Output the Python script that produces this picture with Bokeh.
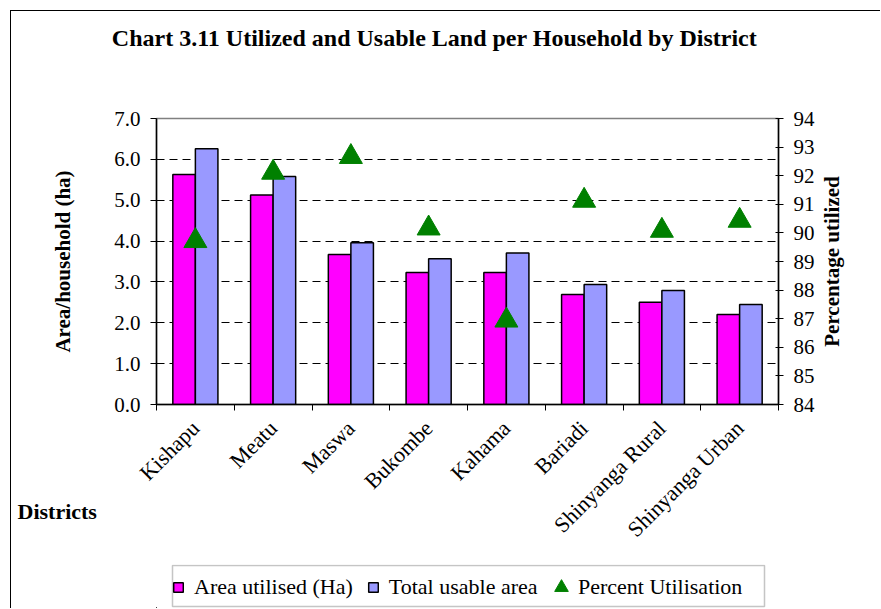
import math
from bokeh.plotting import figure
from bokeh.layouts import column
from bokeh.models import (Range1d, LinearAxis, FixedTicker, Legend, LegendItem, Label,
                          BoxAnnotation, PrintfTickFormatter, ColumnDataSource)
from bokeh.embed import file_html
from bokeh.resources import INLINE

districts = ["Kishapu", "Meatu", "Maswa", "Bukombe", "Kahama", "Bariadi",
             "Shinyanga Rural", "Shinyanga Urban"]
area_utilised = [5.63, 5.13, 3.67, 3.23, 3.23, 2.69, 2.50, 2.20]
total_usable = [6.26, 5.58, 3.96, 3.57, 3.71, 2.94, 2.79, 2.45]
percent_util = [89.72, 92.11, 92.66, 90.16, 86.94, 91.13, 90.08, 90.43]
left_ticks = [0, 1, 2, 3, 4, 5, 6, 7]
right_ticks = [84, 85, 86, 87, 88, 89, 90, 91, 92, 93, 94]
grid_ticks = [1, 2, 3, 4, 5, 6]

FONT = "Liberation Serif"
MAGENTA, LAVENDER, GREEN = "#FF00FF", "#9999FF", "#008000"
n = len(districts)
centers = [i + 0.5 for i in range(n)]
bar_w = 0.29

src = ColumnDataSource(dict(
    x=centers,
    x_util=[c - bar_w / 2 for c in centers],
    x_total=[c + bar_w / 2 for c in centers],
    util=area_utilised, total=total_usable, pct=percent_util,
))

# ---------------- main chart ----------------
p = figure(width=870, height=554, x_range=Range1d(0, n), y_range=Range1d(0, 7),
           output_backend="svg", toolbar_location=None,
           min_border_left=145, min_border_right=103, min_border_top=107,
           min_border_bottom=161)
p.title.text = ""
p.title.text_font_size = "0px"
p.title.standoff = 0
p.background_fill_color = "white"
p.border_fill_color = "white"
p.outline_line_color = "#808080"
p.outline_line_width = 1.5

p.vbar(x="x_util", top="util", width=bar_w, source=src,
       fill_color=MAGENTA, line_color="black", line_width=1.5)
p.vbar(x="x_total", top="total", width=bar_w, source=src,
       fill_color=LAVENDER, line_color="black", line_width=1.5)

p.extra_y_ranges = {"pct": Range1d(84, 94)}
p.scatter(x="x", y="pct", source=src, marker="triangle", size=23,
          fill_color=GREEN, line_color=GREEN, y_range_name="pct")

# grid
p.xgrid.visible = False
p.ygrid.ticker = FixedTicker(ticks=grid_ticks)
p.ygrid.grid_line_color = "black"
p.ygrid.grid_line_dash = "8 5"
p.ygrid.grid_line_width = 1

# x axis
xa = p.xaxis[0]
xa.ticker = FixedTicker(ticks=centers, minor_ticks=list(range(n + 1)))
xa.major_label_overrides = {c: d for c, d in zip(centers, districts)}
xa.major_label_orientation = math.pi / 4
xa.major_tick_in = 0
xa.major_tick_out = 0
xa.minor_tick_in = 0
xa.minor_tick_out = 6
xa.minor_tick_line_color = "black"
xa.axis_line_color = "black"
xa.axis_line_width = 1.5
xa.major_label_text_font = FONT
xa.major_label_text_font_size = "22px"
xa.major_label_text_color = "black"
xa.major_label_standoff = 14

# left axis
ya = p.yaxis[0]
ya.ticker = FixedTicker(ticks=left_ticks)
ya.formatter = PrintfTickFormatter(format="%.1f")
ya.major_tick_in = 0
ya.major_tick_out = 6
ya.minor_tick_line_color = None
ya.axis_line_color = "black"
ya.axis_line_width = 1.5
ya.major_label_text_font = FONT
ya.major_label_text_font_size = "21px"
ya.major_label_text_color = "black"
ya.major_label_standoff = 10
ya.axis_label = "Area/household (ha)"
ya.axis_label_text_font = FONT
ya.axis_label_text_font_style = "bold"
ya.axis_label_text_font_size = "21px"
ya.axis_label_text_color = "black"
ya.axis_label_standoff = 36

# right axis; its title is a rotated label so that it reads bottom-to-top
ra = LinearAxis(y_range_name="pct", ticker=FixedTicker(ticks=right_ticks))
ra.major_tick_in = 3
ra.major_tick_out = 5
ra.minor_tick_line_color = None
ra.axis_line_color = "black"
ra.axis_line_width = 1.5
ra.major_label_text_font = FONT
ra.major_label_text_font_size = "21px"
ra.major_label_text_color = "black"
ra.major_label_standoff = 10
p.add_layout(ra, "right")
right_lbl = Label(x=14, x_units="screen", y=89, y_units="data", y_range_name="pct",
                  text="Percentage utilized", angle=math.pi / 2,
                  text_align="center", text_baseline="middle",
                  text_font=FONT, text_font_style="bold", text_font_size="21px",
                  text_color="black")
p.add_layout(right_lbl, "right")

# chart title and the x-axis caption
title_lbl = Label(x=278, y=81, x_units="screen", y_units="screen",
                  text="Chart 3.11 Utilized and Usable Land per Household by District",
                  text_align="center", text_baseline="middle",
                  text_font=FONT, text_font_style="bold", text_font_size="24px",
                  text_color="black")
p.add_layout(title_lbl, "above")
cap_lbl = Label(x=-139, y=-419, x_units="screen", y_units="screen",
                text="Districts", text_align="left", text_baseline="middle",
                text_font=FONT, text_font_style="bold", text_font_size="22px",
                text_color="black")
p.add_layout(cap_lbl, "above")

p.styles = {"border-left": "1px solid black", "border-top": "1px solid black",
            "margin-left": "10px", "margin-top": "10px"}

# ---------------- legend strip (frame aligned with the chart frame) ----------------
lg = figure(width=870, height=44, x_range=Range1d(0, 622), y_range=Range1d(0, 44),
            x_axis_type=None, y_axis_type=None, output_backend="svg",
            toolbar_location=None, min_border_left=145, min_border_right=103,
            min_border_top=0, min_border_bottom=0)
lg.title.text = ""
lg.title.text_font_size = "0px"
lg.title.standoff = 0
lg.grid.visible = False
lg.background_fill_color = "white"
lg.border_fill_color = "white"
lg.outline_line_color = None

# legend key renderers: same series, drawn on ranges that keep them out of view
lg.extra_x_ranges = {"hidex": Range1d(1000, 1001)}
lg.extra_y_ranges = {"hidey": Range1d(1000, 1001)}
k1 = lg.vbar(x="x_util", top="util", width=bar_w, source=src,
             x_range_name="hidex", y_range_name="hidey",
             fill_color=MAGENTA, line_color="black", line_width=1.5)
k2 = lg.vbar(x="x_total", top="total", width=bar_w, source=src,
             x_range_name="hidex", y_range_name="hidey",
             fill_color=LAVENDER, line_color="black", line_width=1.5)
k3 = lg.scatter(x="x", y="pct", source=src, marker="triangle",
                x_range_name="hidex", y_range_name="hidey",
                fill_color=GREEN, line_color=GREEN)

lg.add_layout(BoxAnnotation(left=16, right=608, bottom=2, top=43, fill_color=None,
                            line_color="#404040", line_width=1.5))

def style_legend(leg):
    leg.label_text_font = FONT
    leg.label_text_font_size = "22px"
    leg.label_text_color = "black"
    leg.border_line_color = None
    leg.background_fill_alpha = 0
    leg.margin = 0

leg1 = Legend(items=[LegendItem(label="Area utilised (Ha)", renderers=[k1]),
                     LegendItem(label="Total usable area", renderers=[k2])],
              orientation="horizontal", location=(16, 8))
style_legend(leg1)
leg1.padding = 8
leg1.glyph_width = 12
leg1.glyph_height = 12
leg1.label_standoff = 10
leg1.spacing = 14
lg.add_layout(leg1)

leg2 = Legend(items=[LegendItem(label="Percent Utilisation", renderers=[k3])],
              orientation="horizontal", location=(388, 3))
style_legend(leg2)
leg2.padding = 2
leg2.glyph_width = 34
leg2.glyph_height = 36
leg2.label_standoff = 0
lg.add_layout(leg2)

lg.styles = {"border-left": "1px solid black", "margin-left": "10px"}

layout = column(p, lg, spacing=0)
open("out.html", "w").write(file_html(layout, INLINE))
